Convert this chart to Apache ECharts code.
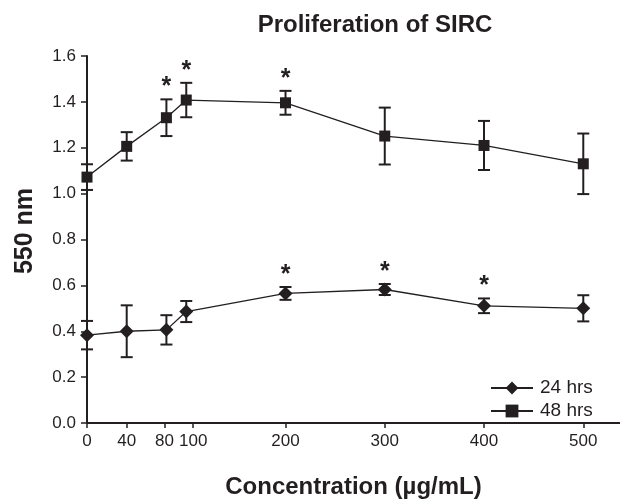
<!DOCTYPE html>
<html>
<head>
<meta charset="utf-8">
<script src="https://cdn.jsdelivr.net/npm/echarts@6/dist/echarts.min.js"></script>
<style>
html,body{margin:0;padding:0;background:#fff;}
#chart{width:620px;height:504px;}
</style>
</head>
<body>
<div id="chart"></div>
<script>
const concentrations = [0, 40, 80, 100, 200, 300, 400, 500];
const mean24 = [0.383, 0.400, 0.406, 0.486, 0.565, 0.582, 0.511, 0.500];
const err24  = [0.062, 0.113, 0.064, 0.046, 0.028, 0.024, 0.032, 0.057];
const sig24  = [0, 0, 0, 0, 1, 1, 1, 0];
const mean48 = [1.072, 1.206, 1.331, 1.408, 1.396, 1.251, 1.210, 1.130];
const err48  = [0.056, 0.062, 0.080, 0.075, 0.052, 0.124, 0.107, 0.132];
const sig48  = [0, 0, 1, 1, 1, 0, 0, 0];
// tick positions as placed on the original axis (80 and 100 spread apart for legibility)
const xTickPos = [0, 40, 78, 107, 200, 300, 400, 500];
const xTickLabels = ['0', '40', '80', '100', '200', '300', '400', '500'];
const yTickLabels = ['0.0','0.2','0.4','0.6','0.8','1.0','1.2','1.4','1.6'];

const INK = '#231f20';
const FONT = '"Liberation Sans", Arial, sans-serif';

function pairs(means) { return concentrations.map((c, i) => [c, means[i]]); }
function errData(means, errs, sigs) {
  return concentrations.map((c, i) => [c, means[i] - errs[i], means[i] + errs[i], sigs[i]]);
}

function renderErr(params, api) {
  const x = api.value(0);
  const lo = api.coord([x, api.value(1)]);
  const hi = api.coord([x, api.value(2)]);
  const cap = 6;
  const style = { stroke: INK, lineWidth: 2 };
  const children = [
    { type: 'line', shape: { x1: lo[0], y1: lo[1], x2: hi[0], y2: hi[1] }, style },
    { type: 'line', shape: { x1: hi[0] - cap, y1: hi[1], x2: hi[0] + cap, y2: hi[1] }, style },
    { type: 'line', shape: { x1: lo[0] - cap, y1: lo[1], x2: lo[0] + cap, y2: lo[1] }, style }
  ];
  if (api.value(3)) {
    children.push({
      type: 'text',
      style: {
        text: '*', x: hi[0], y: hi[1] - 12,
        textAlign: 'center', textVerticalAlign: 'middle',
        font: 'bold 25px ' + FONT, fill: INK
      }
    });
  }
  return { type: 'group', children };
}

const chart = echarts.init(document.getElementById('chart'));
chart.setOption({
  animation: false,
  backgroundColor: '#fff',
  grid: { left: 87, right: 0, top: 56, bottom: 64 },
  graphic: [
    { type: 'text', x: 375, y: 25,
      style: { text: 'Proliferation of SIRC', textAlign: 'center', textVerticalAlign: 'middle',
               font: 'bold 24px ' + FONT, fill: INK } },
    { type: 'text', x: 25, y: 231, rotation: Math.PI / 2,
      style: { text: '550 nm', textAlign: 'center', textVerticalAlign: 'middle',
               font: 'bold 25px ' + FONT, fill: INK } }
  ],
  legend: {
    orient: 'vertical', left: 485, top: 373,
    itemWidth: 42, itemHeight: 16, itemGap: 3,
    textStyle: { fontFamily: FONT, fontSize: 19, color: INK, lineHeight: 20, padding: [0, 0, 0, 2] },
    data: ['24 hrs', '48 hrs']
  },
  xAxis: [{
    type: 'value', min: 0, max: 537,
    name: 'Concentration (\u00b5g/mL)', nameLocation: 'middle', nameGap: 52,
    nameTextStyle: { fontFamily: FONT, fontSize: 24, fontWeight: 'bold', color: INK },
    splitLine: { show: false },
    axisLine: { show: true, onZero: false, lineStyle: { color: INK, width: 2 } },
    axisTick: { show: true, length: 5, customValues: xTickPos, lineStyle: { color: INK, width: 1.5 } },
    axisLabel: { customValues: xTickPos, margin: 10, fontFamily: FONT, fontSize: 17, color: INK,
                 formatter: (v) => xTickLabels[xTickPos.indexOf(v)] }
  }, {
    type: 'value', position: 'top', min: 0, max: 537,
    splitLine: { show: false },
    axisLine: { show: true, lineStyle: { color: INK, width: 2 } },
    axisTick: { show: false }, axisLabel: { show: false }
  }],
  yAxis: {
    type: 'value', min: 0, max: 1.6, interval: 0.2,
    splitLine: { show: false },
    axisLine: { show: true, lineStyle: { color: INK, width: 2 } },
    axisTick: { show: true, length: 6, lineStyle: { color: INK, width: 1.5 } },
    axisLabel: { margin: 11, fontFamily: FONT, fontSize: 17, color: INK,
                 formatter: (v) => yTickLabels[Math.round(v / 0.2)] }
  },
  series: [
    { name: 'err24', type: 'custom', renderItem: renderErr, data: errData(mean24, err24, sig24), z: 2,
      encode: { x: 0, y: [1, 2] } },
    { name: 'err48', type: 'custom', renderItem: renderErr, data: errData(mean48, err48, sig48), z: 2,
      encode: { x: 0, y: [1, 2] } },
    { name: '24 hrs', type: 'line', data: pairs(mean24), symbol: 'diamond', symbolSize: 14,
      lineStyle: { color: INK, width: 1.3 }, itemStyle: { color: INK }, z: 3 },
    { name: '48 hrs', type: 'line', data: pairs(mean48), symbol: 'rect', symbolSize: 11,
      lineStyle: { color: INK, width: 1.3 }, itemStyle: { color: INK }, z: 3 }
  ]
});
</script>
</body>
</html>
